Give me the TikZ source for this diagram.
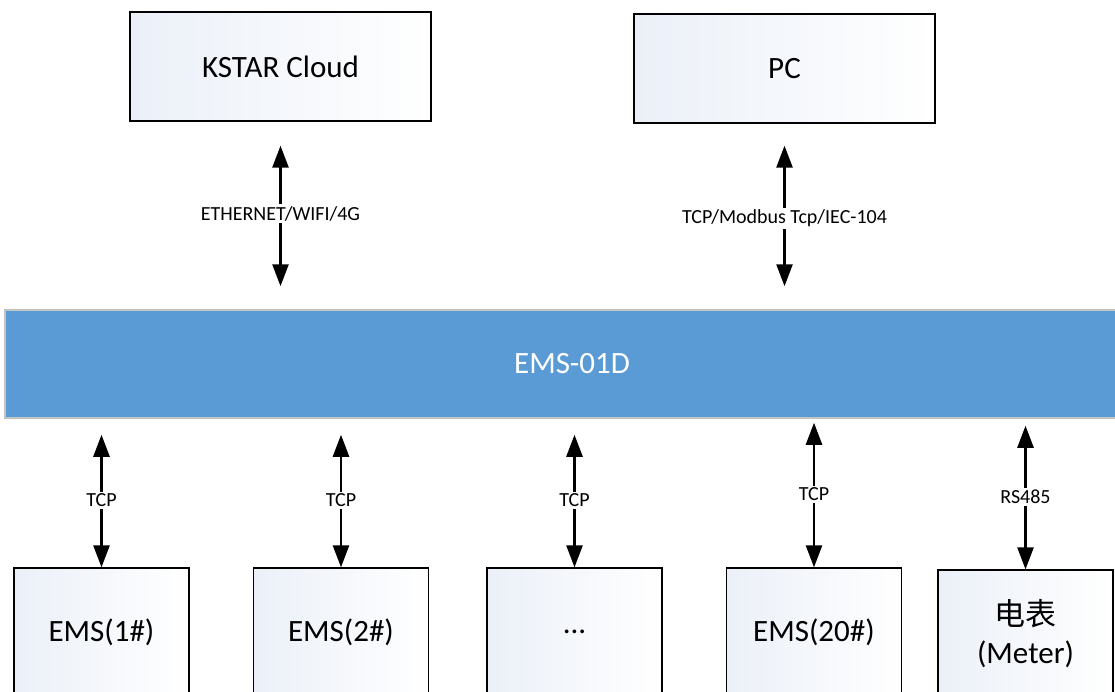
\documentclass[tikz,border=0pt]{standalone}
\usepackage{fontspec}
\setmainfont{Carlito}
\newfontfamily\cjkfont{Noto Sans CJK SC}
\usetikzlibrary{arrows.meta,positioning}
\definecolor{emsblue}{HTML}{5B9BD5}
\definecolor{emsedge}{HTML}{C4C4C4}
\definecolor{emstint}{HTML}{EBF0F8}
\tikzset{
  box/.style={draw=black,line width=1.3pt,left color=emstint,right color=white,align=center,inner sep=0pt,font=\fontsize{31}{38}\selectfont},
  topbox/.style={box,minimum width=301pt,minimum height=109pt},
  devbox/.style={box,minimum width=175pt,minimum height=128pt},
  bus/.style={draw=emsedge,line width=1.5pt,fill=emsblue,text=white,minimum width=1134pt,minimum height=108pt,inner sep=0pt,font=\fontsize{31}{38}\selectfont},
  ar/.style={{Triangle[length=22pt,width=16pt]}-{Triangle[length=22pt,width=16pt]},line width=2.5pt},
  lbl/.style={fill=white,inner sep=2pt,font=\fontsize{20}{24}\selectfont},
}
\begin{document}
\begin{tikzpicture}[x=1pt,y=-1pt]
  \useasboundingbox (0,0) rectangle (1115,691);
  \clip (0,0) rectangle (1115,691);
  % upper level
  \node[topbox] (cloud) at (280.5,66.5) {KSTAR Cloud};
  \node[topbox] (pc) at (784.5,68.5) {PC};
  % controller
  \node[bus] (ems) at (572,364) {EMS-01D};
  % devices
  \node[devbox] (ems1) at (101.5,632) {EMS(1\#)};
  \node[devbox] (ems2) at (341,632) {EMS(2\#)};
  \node[devbox] (emsx) at (574.5,632) {...};
  \node[devbox] (ems20) at (814,632) {EMS(20\#)};
  \node[devbox] (meter) at (1025.5,634) {{\cjkfont 电表}\\(Meter)};
  % links
  \draw[ar,shorten <=24pt,shorten >=23pt] (cloud.south) -- node[lbl,pos=0.49]{ETHERNET/WIFI/4G} (cloud.south |- ems.north);
  \draw[ar,shorten <=22pt,shorten >=23pt] (pc.south) -- node[lbl,pos=0.51]{TCP/Modbus Tcp/IEC-104} (pc.south |- ems.north);
  \draw[ar,shorten <=16pt] (ems.south -| ems1) -- node[lbl,pos=0.55]{TCP} (ems1.north);
  \draw[ar,shorten <=16pt] (ems.south -| ems2) -- node[lbl,pos=0.55]{TCP} (ems2.north);
  \draw[ar,shorten <=16pt] (ems.south -| emsx) -- node[lbl,pos=0.55]{TCP} (emsx.north);
  \draw[ar,shorten <=4pt] (ems.south -| ems20) -- node[lbl,pos=0.51]{TCP} (ems20.north);
  \draw[ar,shorten <=7pt] (ems.south -| meter) -- node[lbl,pos=0.52]{RS485} (meter.north);
\end{tikzpicture}
\end{document}
